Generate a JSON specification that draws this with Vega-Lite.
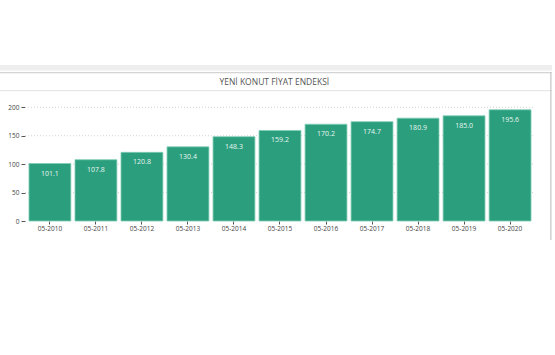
{
  "$schema": "https://vega.github.io/schema/vega-lite/v6.json",
  "width": 552,
  "height": 175,
  "autosize": {"type": "none"},
  "padding": {"left": 0, "top": 65, "right": 3, "bottom": 115},
  "background": "#ffffff",
  "config": {
    "view": {"stroke": null},
    "font": "Open Sans",
    "axis": {"labelFont": "Open Sans", "labelColor": "#444444", "tickColor": "#555555"}
  },
  "datasets": {
    "bars": [
      {"period": "05-2010", "value": 101.1},
      {"period": "05-2011", "value": 107.8},
      {"period": "05-2012", "value": 120.8},
      {"period": "05-2013", "value": 130.4},
      {"period": "05-2014", "value": 148.3},
      {"period": "05-2015", "value": 159.2},
      {"period": "05-2016", "value": 170.2},
      {"period": "05-2017", "value": 174.7},
      {"period": "05-2018", "value": 180.9},
      {"period": "05-2019", "value": 185.0},
      {"period": "05-2020", "value": 195.6}
    ],
    "grid": [{"g": 50}, {"g": 100}, {"g": 150}, {"g": 200}],
    "title": [{"t": "YENİ KONUT FİYAT ENDEKSİ"}]
  },
  "resolve": {"scale": {"x": "independent"}, "axis": {"x": "independent"}},
  "layer": [
    {
      "data": {"name": "title"},
      "mark": {"type": "rect", "color": "#eeeeee"},
      "encoding": {
        "x": {"datum": 0, "type": "quantitative", "scale": {"domain": [0, 1], "nice": false, "zero": false}, "axis": null},
        "x2": {"datum": 1},
        "y": {"datum": 274.4, "type": "quantitative"},
        "y2": {"datum": 264.7}
      }
    },
    {
      "data": {"name": "title"},
      "mark": {"type": "rule", "color": "#c8c8c8", "strokeWidth": 1},
      "encoding": {
        "y": {"datum": 260.8, "type": "quantitative"}
      }
    },
    {
      "data": {"name": "title"},
      "mark": {"type": "rule", "color": "#e2e2e2", "strokeWidth": 1},
      "encoding": {
        "y": {"datum": 229.2, "type": "quantitative"}
      }
    },
    {
      "data": {"name": "title"},
      "mark": {"type": "rule", "color": "#b8b8b8", "strokeWidth": 1},
      "encoding": {
        "x": {"datum": 0.998, "type": "quantitative", "scale": {"domain": [0, 1], "nice": false, "zero": false}, "axis": null},
        "y": {"datum": 260.8, "type": "quantitative"},
        "y2": {"datum": -33.4}
      }
    },
    {
      "data": {"name": "title"},
      "mark": {"type": "text", "color": "#555555", "fontSize": 8.5, "font": "Open Sans", "baseline": "middle", "align": "center"},
      "encoding": {
        "x": {"datum": 0.497, "type": "quantitative", "scale": {"domain": [0, 1], "nice": false, "zero": false}, "axis": null},
        "y": {"datum": 245, "type": "quantitative"},
        "text": {"field": "t"}
      }
    },
    {
      "data": {"name": "grid"},
      "mark": {"type": "rule", "color": "#d4d4d4", "strokeWidth": 1, "strokeDash": [1, 2]},
      "encoding": {
        "x": {"datum": 0.0453, "type": "quantitative", "scale": {"domain": [0, 1], "nice": false, "zero": false}, "axis": null},
        "x2": {"datum": 0.969},
        "y": {"field": "g", "type": "quantitative"}
      }
    },
    {
      "data": {"name": "bars"},
      "layer": [
        {
          "mark": {"type": "bar", "color": "#2b9e7e", "stroke": "#7fcdb4", "strokeWidth": 0.8},
          "encoding": {
            "x": {
              "field": "period", "type": "ordinal", "sort": null,
              "scale": {"paddingInner": 0.09, "paddingOuter": 0.543, "align": 0.58},
              "axis": {"title": null, "orient": "bottom", "offset": -19, "domain": false, "labelAngle": 0, "labelFontSize": 6.5, "tickSize": 3, "labelPadding": 1, "labelColor": "#444444"}
            },
            "y": {
              "field": "value", "type": "quantitative",
              "scale": {"domain": [-33.4, 274.4], "nice": false, "zero": false},
              "axis": {"title": null, "orient": "left", "offset": -25, "values": [0, 50, 100, 150, 200], "domain": false, "grid": false, "tickSize": 4, "labelPadding": 2, "labelFontSize": 6.5, "labelColor": "#444444"}
            },
            "y2": {"datum": 0}
          }
        },
        {
          "mark": {"type": "text", "color": "#e8f6f0", "fontSize": 7, "font": "Open Sans", "baseline": "middle", "dy": 10},
          "encoding": {
            "x": {"field": "period", "type": "ordinal", "sort": null},
            "y": {"field": "value", "type": "quantitative"},
            "text": {"field": "value", "type": "quantitative", "format": ".1f"}
          }
        }
      ]
    }
  ]
}
